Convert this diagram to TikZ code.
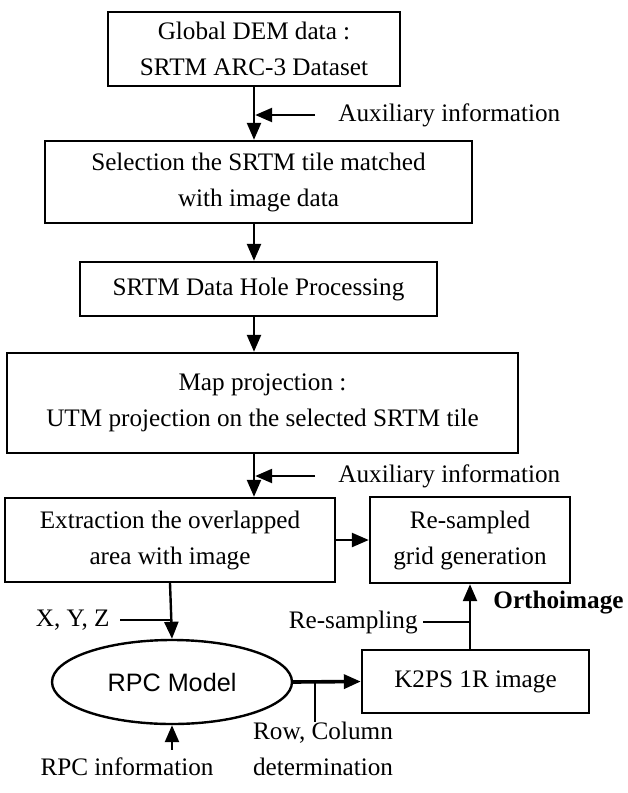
\documentclass[tikz,border=0pt]{standalone}
\usepackage{fontspec}
\setmainfont{Liberation Serif}
\setsansfont{Liberation Sans}
\usetikzlibrary{shapes.geometric,arrows.meta}

\begin{document}
\begin{tikzpicture}[x=0.5pt,y=-0.5pt,
    every node/.style={font=\fontsize{12.6}{18}\selectfont},
    procbox/.style={draw,line width=1.2pt,align=center,inner sep=0pt},
    lbl/.style={inner sep=0pt,align=center},
    arr/.style={line width=1.2pt,-{Triangle[length=8.5pt,width=7pt]}}]

    \useasboundingbox (0,0) rectangle (627,793);

%   main processing steps
    \foreach \name/\x/\y/\w/\h/\txt in {
        gdem/254/49/292/74/Global DEM data :\\SRTM ARC-3 Dataset,
        select/258.5/182/427/82/Selection the SRTM tile matched\\with image data,
        hole/258.5/289/357/54/SRTM Data Hole Processing,
        mapproj/262.5/403/511/100/Map projection :\\UTM projection on the selected SRTM tile,
        extract/170/540/330/84/Extraction the overlapped\\area with image,
        grid/470/540/200/86/Re-sampled\\grid generation,
        k2ps/475.5/681.5/227/63/K2PS 1R image}
    {
        \node[procbox,minimum width=\w*0.5pt,minimum height=\h*0.5pt] (\name) at (\x,\y) {\txt};
    };

    \node[draw,ellipse,line width=1.2pt,minimum width=120pt,minimum height=42pt,inner sep=0pt,
          font=\sffamily\fontsize{12.6}{18}\selectfont] (rpc) at (172,682) {RPC Model};

%   side labels
    \node[lbl,anchor=west] (aux1) at (338,115) {Auxiliary information};
    \node[lbl,anchor=west] (aux2) at (338,476) {Auxiliary information};
    \node[lbl,anchor=east] (xyz) at (110,620) {X, Y, Z};
    \node[lbl] (rpcinfo) at (127,767) {RPC information};
    \node[lbl] (rowcol) at (323,749) {Row, Column\\determination};
    \node[lbl,anchor=east] (resamp) at (418,622) {Re-sampling};
    \node[lbl,anchor=west,font=\bfseries\fontsize{12.6}{18}\selectfont] (ortho) at (493,603) {Orthoimage};

%   flow
    \draw[arr] (gdem.south) -- (gdem.south |- select.north);
    \draw[arr] (gdem.south |- select.south) -- (gdem.south |- hole.north);
    \draw[arr] (gdem.south |- hole.south) -- (gdem.south |- mapproj.north);
    \draw[arr] (gdem.south |- mapproj.south) -- (gdem.south |- extract.north);
    \draw[arr] ([xshift=-11.5pt]aux1.west) -- ([xshift=0.6pt]aux1.west -| gdem.south);
    \draw[arr] ([xshift=-11.5pt]aux2.west) -- ([xshift=0.6pt]aux2.west -| gdem.south);
    \draw[arr] (extract.east |- grid.west) -- (grid.west);
    \draw[arr] (extract.south) -- (rpc.north);
    \draw[line width=1.2pt] ([xshift=5pt]xyz.east) -- (xyz.east -| extract.south);
    \draw[arr] (rpc.south |- rpcinfo.north) ++(0,-8) -- (rpc.south);
    \draw[arr,line width=1.8pt] (rpc.east) -- (k2ps.west);
    \coordinate (tick) at (315,682);
    \draw[line width=1.2pt] (tick) -- (tick |- rowcol.north);
    \draw[arr] (k2ps.north -| grid.south) -- (grid.south);
    \draw[line width=1.2pt] ([xshift=2.5pt]resamp.east) -- (resamp.east -| grid.south);

\end{tikzpicture}
\end{document}
